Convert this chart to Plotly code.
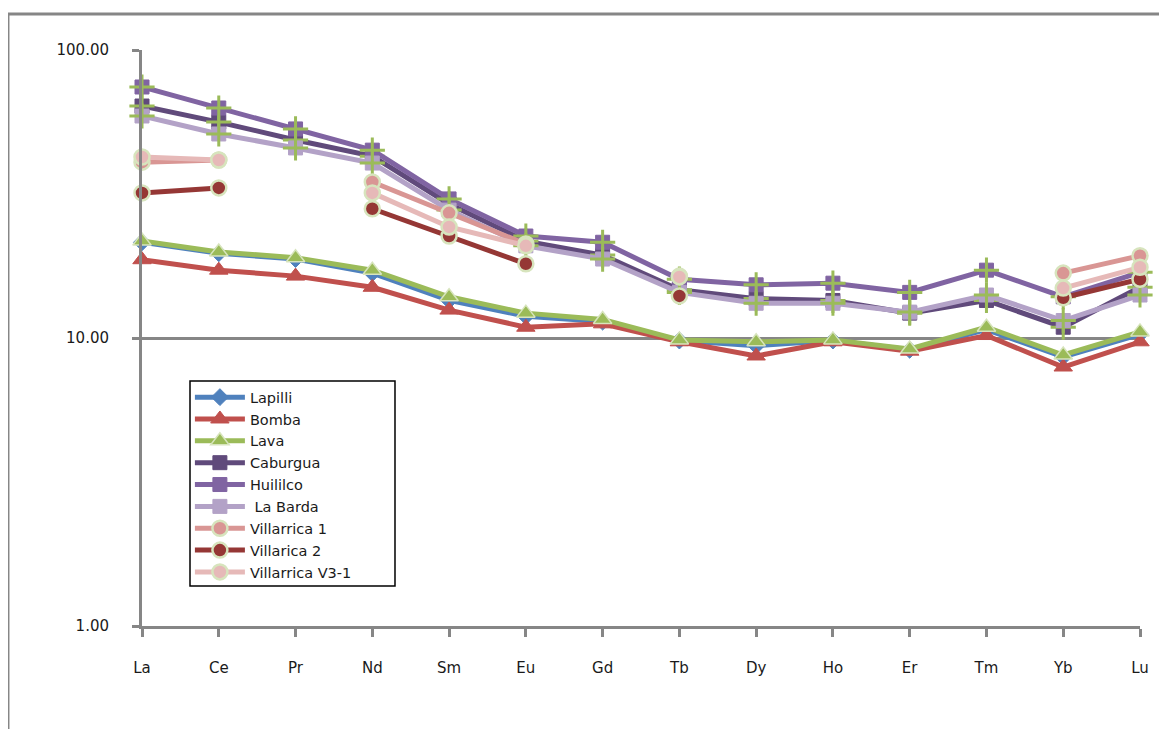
import plotly.graph_objects as go

elements = ["La", "Ce", "Pr", "Nd", "Sm", "Eu", "Gd", "Tb", "Dy", "Ho", "Er", "Tm", "Yb", "Lu"]
y_ticks = [1, 10, 100]
y_tick_labels = ["1.00", "10.00", "100.00"]

lapilli = [21.5, 19.7, 18.8, 16.8, 13.5, 11.9, 11.4, 9.8, 9.4, 9.8, 9.1, 10.7, 8.6, 10.3]
bomba = [18.7, 17.2, 16.4, 15.0, 12.5, 10.9, 11.2, 9.7, 8.66, 9.7, 9.0, 10.2, 7.93, 9.7]
lava = [21.7, 19.9, 19.0, 17.2, 13.9, 12.2, 11.6, 9.85, 9.7, 9.85, 9.16, 10.9, 8.73, 10.5]
caburgua = [63.9, 56.2, 48.7, 42.8, 29.2, 21.7, 19.4, 14.7, 13.7, 13.5, 12.2, 13.5, 10.9, 15.0]
huililco = [74.4, 62.9, 53.2, 44.9, 30.4, 22.6, 21.5, 16.0, 15.3, 15.5, 14.4, 17.2, 13.9, 16.9]
la_barda = [59.0, 51.1, 45.7, 40.5, 27.8, 20.9, 18.8, 14.4, 13.2, 13.2, 12.3, 14.1, 11.5, 14.1]
villarrica_1 = [40.8, 41.5, None, 34.8, 27.2, 21.2, None, 16.4, None, None, None, None, 16.8, 19.3]
villarica_2 = [31.9, 33.2, None, 28.1, 22.6, 18.1, None, 14.0, None, None, None, None, 13.8, 16.0]
villarrica_v31 = [42.5, 41.5, None, 31.9, 24.3, 20.9, None, 16.3, None, None, None, None, 14.9, 17.6]

GRAY = "#868686"
OUTLINE = "#d7e4bd"

fig = go.Figure()


def add_series(name, values, color, symbol, msize, mline_color, mline_width, cross=False):
    fig.add_trace(go.Scatter(
        x=elements, y=values, name=name, mode="lines+markers",
        line=dict(color=color, width=5),
        marker=dict(symbol=symbol, size=msize, color=color,
                    line=dict(color=mline_color, width=mline_width)),
        cliponaxis=False, connectgaps=False,
    ))
    if cross:
        fig.add_trace(go.Scatter(
            x=elements, y=values, mode="markers", showlegend=False, hoverinfo="skip",
            marker=dict(symbol="cross-thin", size=18, color="#9bbb59",
                        line=dict(color="#9bbb59", width=3)),
            cliponaxis=False,
        ))


add_series("Lapilli", lapilli, "#4f81bd", "diamond", 13, "#4f81bd", 1)
add_series("Bomba", bomba, "#c0504d", "triangle-up", 16, "#c0504d", 1)
add_series("Lava", lava, "#9bbb59", "triangle-up", 16, OUTLINE, 1.5)
add_series("Caburgua", caburgua, "#604a7b", "square", 14, "#604a7b", 1, cross=True)
add_series("Huililco", huililco, "#8064a2", "square", 14, "#8064a2", 1, cross=True)
add_series(" La Barda", la_barda, "#b3a2c7", "square", 14, "#b3a2c7", 1, cross=True)
add_series("Villarrica 1", villarrica_1, "#d99694", "circle", 15, OUTLINE, 2.5)
add_series("Villarica 2", villarica_2, "#953735", "circle", 15, OUTLINE, 2.5)
add_series("Villarrica V3-1", villarrica_v31, "#e6b9b8", "circle", 15, OUTLINE, 2.5)

fig.update_layout(
    width=1159, height=721,
    margin=dict(l=134, r=27, t=42, b=103),
    paper_bgcolor="white", plot_bgcolor="white",
    font=dict(family="DejaVu Sans", size=15, color="#1a1a1a"),
    showlegend=True,
    legend=dict(
        x=0.048, y=0.425, xanchor="left", yanchor="top",
        borderwidth=0, bgcolor="rgba(0,0,0,0)",
        font=dict(family="DejaVu Sans", size=14.5, color="#1a1a1a"),
        tracegroupgap=0, itemwidth=50,
    ),
    xaxis=dict(
        type="category", range=[0, 13], showgrid=False,
        showline=True, linecolor=GRAY, linewidth=3,
        ticks="outside", ticklen=8, tickwidth=2.5, tickcolor=GRAY,
        tickson="labels", ticklabelstandoff=18,
        zeroline=False, fixedrange=True,
    ),
    yaxis=dict(
        type="log", range=[0, 2],
        tickvals=y_ticks, ticktext=y_tick_labels,
        showgrid=True, gridcolor=GRAY, gridwidth=2.5,
        showline=True, linecolor=GRAY, linewidth=3,
        ticks="outside", ticklen=7, tickwidth=2.5, tickcolor=GRAY,
        ticklabelstandoff=20, zeroline=False, fixedrange=True,
    ),
    shapes=[
        dict(type="line", xref="paper", yref="paper", x0=-0.1343, x1=1.2, y0=1.0625, y1=1.0625,
             line=dict(color=GRAY, width=3)),
        dict(type="line", xref="paper", yref="paper", x0=-0.1343, x1=-0.1343, y0=1.0625, y1=-0.2,
             line=dict(color=GRAY, width=3)),
        dict(type="rect", xref="paper", yref="paper", x0=0.0481, x1=0.2535, y0=0.0694, y1=0.4253,
             fillcolor="white", line=dict(color="#000000", width=1.5), layer="above"),
    ],
)

fig.write_html("out.html")
